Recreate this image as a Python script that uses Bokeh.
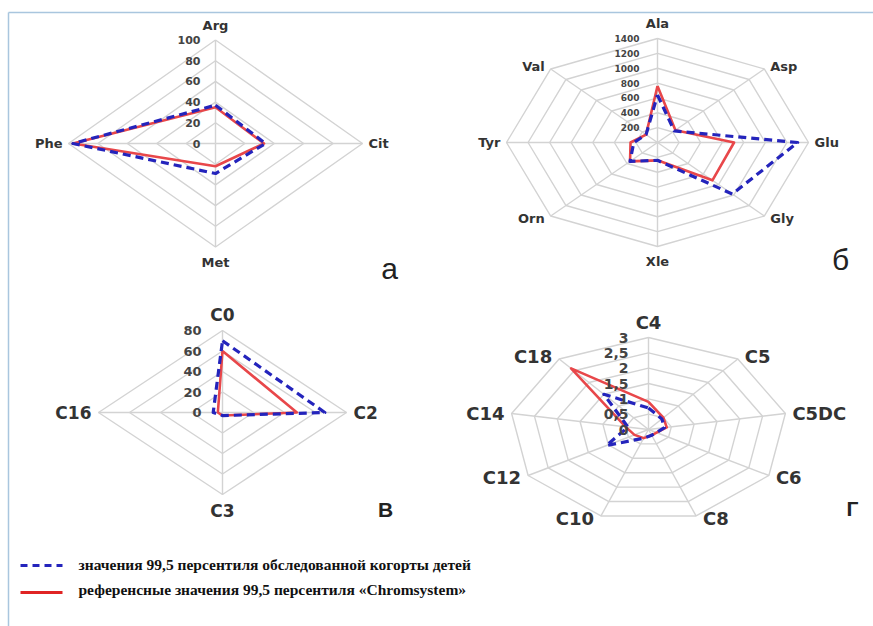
import numpy as np
from bokeh.plotting import figure
from bokeh.models import Range1d
from bokeh.core.properties import value
from bokeh.embed import file_html
from bokeh.resources import INLINE

# ---------------- data ----------------
a_axes = ["Arg", "Cit", "Met", "Phe"]
a_cohort = [37, 34, 29, 97]
a_ref = [35, 33, 22, 97]
a_ticks = [0, 20, 40, 60, 80, 100]
a_tick_labels = ["0", "20", "40", "60", "80", "100"]

b_axes = ["Ala", "Asp", "Glu", "Gly", "Xle", "Orn", "Tyr", "Val"]
b_cohort = [640, 220, 1300, 980, 240, 360, 220, 150]
b_ref = [760, 235, 710, 720, 240, 360, 250, 150]
b_ticks = [200, 400, 600, 800, 1000, 1200, 1400]
b_tick_labels = ["200", "400", "600", "800", "1000", "1200", "1400"]

v_axes = ["C0", "C2", "C3", "C16"]
v_cohort = [70, 66, 3, 6]
v_ref = [60, 48, 3, 3]
v_ticks = [0, 20, 40, 60, 80]
v_tick_labels = ["0", "20", "40", "60", "80"]

g_axes = ["C4", "C5", "C5DC", "C6", "C8", "C10", "C12", "C14", "C18"]
g_cohort = [0.7, 0.45, 0.35, 0.2, 0.2, 0.3, 1.05, 0.45, 1.5]
g_ref = [0.9, 0.5, 0.4, 0.2, 0.2, 0.3, 0.35, 0.5, 2.6]
g_ticks = [0, 0.5, 1, 1.5, 2, 2.5, 3]
g_tick_labels = ["0", "0,5", "1", "1,5", "2", "2,5", "3"]

legend_labels = ["значения 99,5 персентиля обследованной когорты детей",
                 "референсные значения 99,5 персентиля «Chromsystem»"]
panel_letters = ["а", "б", "В", "Г"]

# ---------------- style ----------------
W, H = 873, 626
BLUE = "#2424bc"
RED = "#e8474a"
GRID = "#d3d3d3"
LABEL_FONT = "DejaVu Sans"

p = figure(width=W, height=H, output_backend="svg", toolbar_location=None,
           x_range=Range1d(0, W), y_range=Range1d(H, 0),
           x_axis_location=None, y_axis_location=None, min_border=0)
p.grid.visible = False
p.outline_line_color = None
p.background_fill_color = "white"
p.border_fill_color = "white"

# page frame
p.line([8, W], [12, 12], line_color="#a9c6de", line_width=1.5)
p.line([8, 8], [12, H], line_color="#a9c6de", line_width=1.5)


def radar(cx, cy, rx, ry, axes, step_deg, vmax, nrings, cohort, ref,
          ticks, tick_labels, lab_size, tick_size, tick_dx, dy_lab=15, dx_lab=6):
    n = len(axes)
    ang = np.deg2rad(90 - step_deg * np.arange(n))
    c, s = np.cos(ang), np.sin(ang)
    cc, sc = np.append(c, c[0]), np.append(s, s[0])
    xs = [list(cx + rx * (k / nrings) * cc) for k in range(1, nrings + 1)]
    ys = [list(cy - ry * (k / nrings) * sc) for k in range(1, nrings + 1)]
    p.multi_line(xs, ys, line_color=GRID, line_width=1.4)
    p.segment(x0=[cx] * n, y0=[cy] * n, x1=list(cx + rx * c), y1=list(cy - ry * s),
              line_color=GRID, line_width=1.4)
    for vals, color, dash, width in ((ref, RED, "solid", 2.6), (cohort, BLUE, "8 5", 3.2)):
        f = np.array(vals, dtype=float) / vmax
        x = cx + rx * f * c
        y = cy - ry * f * s
        p.line(list(np.append(x, x[0])), list(np.append(y, y[0])), line_color=color,
               line_width=width, line_dash=dash, line_join="round")
    # axis labels
    for i, name in enumerate(axes):
        vx, vy = cx + rx * c[i], cy - ry * s[i]
        if abs(c[i]) < 0.1:
            align, lx, ly = "center", vx, vy - dy_lab * np.sign(s[i])
        else:
            align = "left" if c[i] > 0 else "right"
            lx = vx + dx_lab * np.sign(c[i])
            ly = vy - 3 * s[i]
        p.text(x=[lx], y=[ly], text=[name], text_align=align, text_baseline="middle",
               text_font=value(LABEL_FONT), text_font_style="bold",
               text_font_size=f"{lab_size}px", text_color="#333333")
    # tick labels
    ty = [cy - ry * t / vmax for t in ticks]
    p.text(x=[cx - tick_dx] * len(ticks), y=ty, text=tick_labels, text_align="right",
           text_baseline="middle", text_font=value(LABEL_FONT), text_font_style="bold",
           text_font_size=f"{tick_size}px", text_color="#444444")


radar(215, 143, 147, 103.5, a_axes, 90, 100, 5, a_cohort, a_ref,
      a_ticks, a_tick_labels, 13, 11, 15)
radar(657, 142, 151, 104, b_axes, 45, 1400, 7, b_cohort, b_ref,
      b_ticks, b_tick_labels, 13, 9, 18)
radar(222, 412, 124, 82, v_axes, 90, 80, 4, v_cohort, v_ref,
      v_ticks, v_tick_labels, 17, 13, 21, dy_lab=16, dx_lab=7)
radar(648, 429, 139, 92, g_axes, 40, 3, 6, g_cohort, g_ref,
      g_ticks, g_tick_labels, 18, 14, 20, dy_lab=15, dx_lab=7)

# panel letters
p.text(x=[389, 840], y=[268, 259], text=panel_letters[:2], text_align="center",
       text_baseline="middle", text_font=value("Liberation Sans"),
       text_font_size="30px", text_color="#222222")
p.text(x=[385, 852], y=[509, 508], text=panel_letters[2:], text_align="center",
       text_baseline="middle", text_font=value("Liberation Sans"), text_font_style="bold",
       text_font_size="21px", text_color="#222222")

# legend
p.line([20, 62], [565, 565], line_color=BLUE, line_width=3, line_dash="7 5")
p.line([20, 62], [592, 592], line_color="#e02424", line_width=3)
p.text(x=[78, 78], y=[564, 589], text=legend_labels, text_align="left",
       text_baseline="middle", text_font=value("Liberation Serif"), text_font_style="bold",
       text_font_size="15.5px", text_color="#111111")

open("out.html", "w").write(file_html(p, INLINE))
